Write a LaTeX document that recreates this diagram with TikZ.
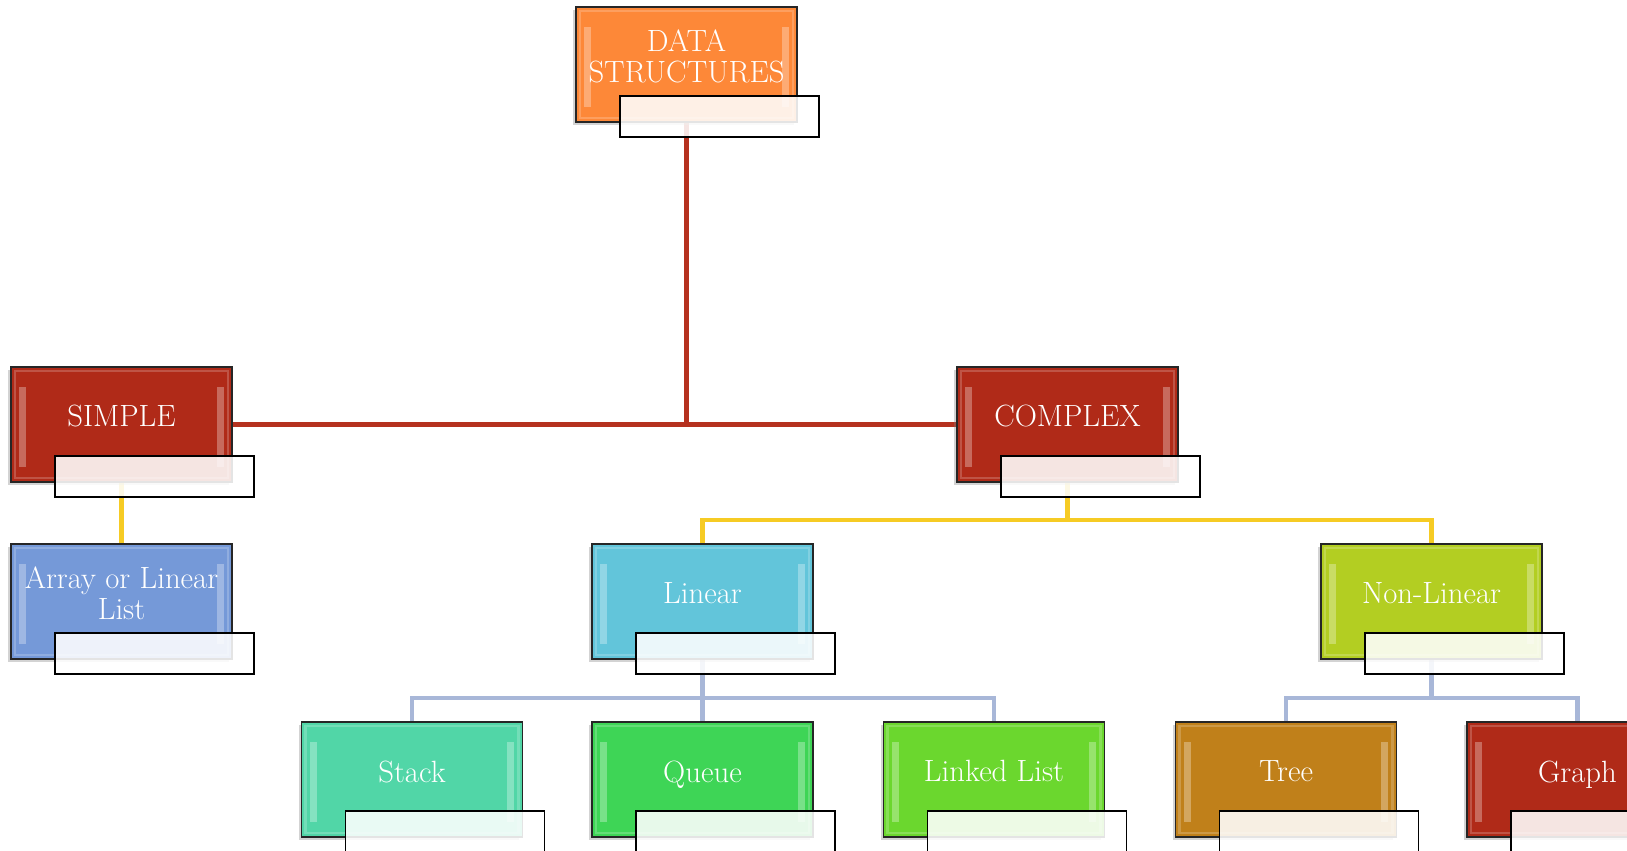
\documentclass[tikz,border=0pt]{standalone}
\usetikzlibrary{shadows,backgrounds}

\definecolor{dsorange}{HTML}{FD8838}
\definecolor{boxred}{HTML}{B02A18}
\definecolor{arrayblue}{HTML}{7599D8}
\definecolor{linearcyan}{HTML}{62C5DA}
\definecolor{nonlingreen}{HTML}{B3CE22}
\definecolor{stackgreen}{HTML}{51D6A7}
\definecolor{queuegreen}{HTML}{3ED556}
\definecolor{linkedgreen}{HTML}{6BD72E}
\definecolor{treebrown}{HTML}{C0801A}
\definecolor{linered}{HTML}{B5311F}
\definecolor{lineyellow}{HTML}{F6CB24}
\definecolor{lineblue}{HTML}{A8B7D8}

\begin{document}
\begin{tikzpicture}[x=0.02cm, y=-0.02cm]

\tikzset{dsbox/.style={draw=black!85, line width=1.1pt, rectangle, minimum width=4.42cm, minimum height=2.3cm,
  text=white, font=\fontsize{17.5}{17.5}\selectfont, align=center, text depth=0.33cm, inner sep=1pt,
  drop shadow={shadow xshift=-0.06cm, shadow yshift=-0.06cm, opacity=0.35},
  path picture={
    \fill[white, opacity=0.3] ([xshift=0.16cm, yshift=-0.4cm]path picture bounding box.north west)
      rectangle ([xshift=0.3cm, yshift=0.3cm]path picture bounding box.south west);
    \fill[white, opacity=0.3] ([xshift=-0.16cm, yshift=-0.4cm]path picture bounding box.north east)
      rectangle ([xshift=-0.3cm, yshift=0.3cm]path picture bounding box.south east);
    \draw[white, opacity=0.2, line width=1.5pt] ([shift={(0.08cm,-0.08cm)}]path picture bounding box.north west)
      rectangle ([shift={(-0.08cm,0.08cm)}]path picture bounding box.south east);
  }}}
\tikzset{notebox/.style={draw, line width=1pt, fill=white, fill opacity=0.88, minimum width=3.98cm,
  minimum height=0.82cm, anchor=north west, inner sep=0pt}}
\tikzset{link/.style={line width=2.8pt}}

% page size
\useasboundingbox (0,0) rectangle (1627,851);

% top
\node[dsbox, fill=dsorange] at (686.5,64.5) (ds) {DATA\\STRUCTURES};

% simple and complex
\node[dsbox, fill=boxred] at (121.5,424.5) (simple) {SIMPLE};
\node[dsbox, fill=boxred] at (1067.5,424.5) (complex) {COMPLEX};

% third row
\node[dsbox, fill=arrayblue] at (121.5,601.5) (array) {Array or Linear\\List};
\node[dsbox, fill=linearcyan] at (702.5,601.5) (linear) {Linear};
\node[dsbox, fill=nonlingreen] at (1431.5,601.5) (nonlinear) {Non-Linear};

% leaves
\node[dsbox, fill=stackgreen] at (412,779.5) (stack) {Stack};
\node[dsbox, fill=queuegreen] at (702.5,779.5) (queue) {Queue};
\node[dsbox, fill=linkedgreen] at (994,779.5) (linked) {Linked List};
\node[dsbox, fill=treebrown] at (1286,779.5) (tree) {Tree};
\node[dsbox, fill=boxred] at (1577.5,779.5) (graph) {Graph};

% note boxes
\foreach \n in {ds,simple,complex,array,linear,nonlinear,stack,queue,linked,tree,graph}
  \node[notebox] (\n-note) at ([xshift=0.88cm, yshift=0.56cm]\n.south west) {};

% bends of the connectors
\coordinate (cbar) at (1067.5,520);
\coordinate (lbar) at (702.5,698);
\coordinate (nbar) at (1431.5,698);

% connectors
\begin{scope}[on background layer]
\draw[link, linered] (ds) -- (ds |- simple);
\draw[link, linered] (simple) -- (complex);
\draw[link, lineyellow] (simple) -- (array);
\draw[link, lineyellow] (complex) -- (cbar);
\draw[link, lineyellow] (linear) -- (linear |- cbar) -- (nonlinear |- cbar) -- (nonlinear);
\draw[link, lineblue] (linear) -- (queue);
\draw[link, lineblue] (stack) -- (stack |- lbar) -- (linked |- lbar) -- (linked);
\draw[link, lineblue] (nonlinear) -- (nbar);
\draw[link, lineblue] (tree) -- (tree |- nbar) -- (graph |- nbar) -- (graph);
\end{scope}

\end{tikzpicture}
\end{document}
